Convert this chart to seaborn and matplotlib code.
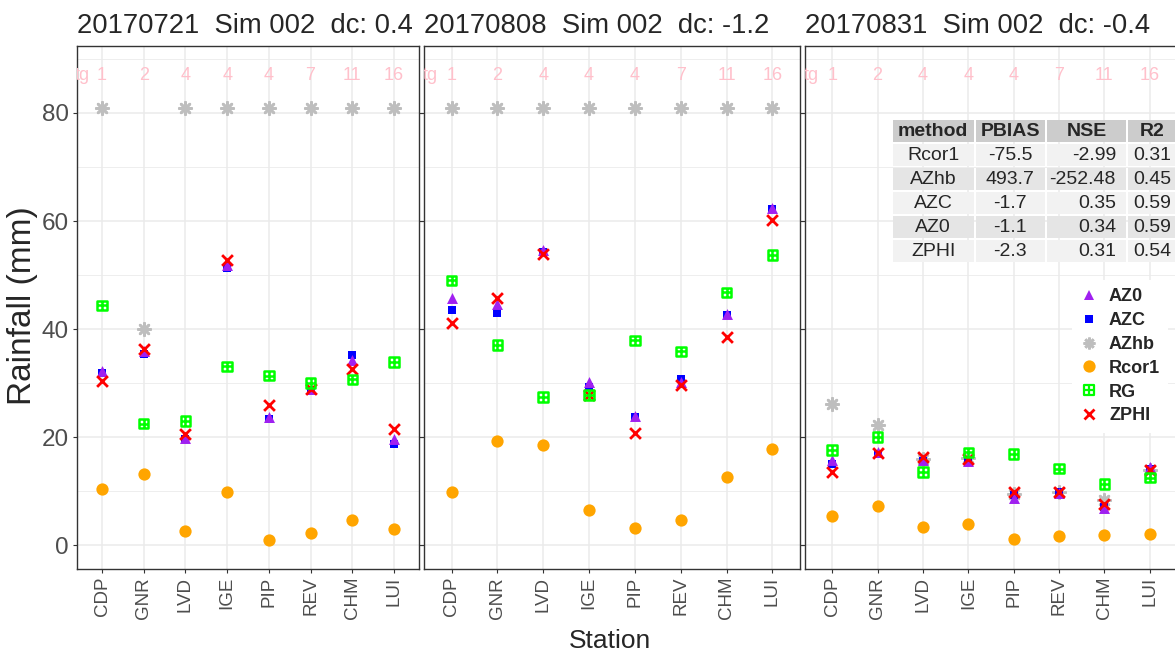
import numpy as np
import pandas as pd
import matplotlib
matplotlib.use("Agg")
import matplotlib.pyplot as plt
import matplotlib.transforms as mtransforms
from matplotlib.patches import Rectangle
from matplotlib.path import Path
from matplotlib.lines import Line2D
import seaborn as sns

# ---------------------------------------------------------------------------
# data
# ---------------------------------------------------------------------------
stations = ["CDP", "GNR", "LVD", "IGE", "PIP", "REV", "CHM", "LUI"]
tg_labels = ["1", "2", "4", "4", "4", "7", "11", "16"]
methods = ["AZhb", "AZC", "AZ0", "Rcor1", "ZPHI", "RG"]  # drawing order

titles = ["20170721  Sim 002  dc: 0.4",
          "20170808  Sim 002  dc: -1.2",
          "20170831  Sim 002  dc: -0.4"]

# 20170721
az0_0721 = [32.2, 35.9, 19.9, 51.9, 23.8, 28.9, 34.3, 19.7]
azc_0721 = [31.9, 35.4, 19.6, 51.3, 23.3, 28.7, 35.3, 18.7]
azhb_0721 = [81, 40.1, 81, 81, 81, 81, 81, 81]
rcor1_0721 = [10.4, 13.2, 2.7, 9.9, 0.9, 2.3, 4.7, 3.0]
rg_0721 = [44.4, 22.5, 23.0, 33.1, 31.4, 30.0, 30.7, 33.9]
zphi_0721 = [30.4, 36.3, 20.6, 52.8, 26.0, 28.9, 32.7, 21.5]

# 20170808
az0_0808 = [45.7, 44.6, 54.7, 30.3, 24.0, 30.3, 42.8, 62.5]
azc_0808 = [43.5, 43.0, 54.3, 29.2, 23.7, 30.7, 42.7, 62.2]
azhb_0808 = [81, 81, 81, 81, 81, 81, 81, 81]
rcor1_0808 = [9.8, 19.3, 18.5, 6.5, 3.2, 4.7, 12.7, 17.9]
rg_0808 = [49.0, 37.1, 27.4, 27.8, 37.9, 35.9, 46.8, 53.7]
zphi_0808 = [41.2, 45.7, 53.9, 27.8, 20.8, 29.6, 38.6, 60.2]

# 20170831
az0_0831 = [15.7, 17.3, 15.7, 15.6, 8.7, 9.7, 6.8, 14.4]
azc_0831 = [15.1, 16.9, 15.6, 15.7, 9.3, 9.8, 7.1, 14.2]
azhb_0831 = [26.2, 22.3, 15.9, 16.2, 9.5, 9.9, 8.4, 13.9]
rcor1_0831 = [5.4, 7.3, 3.3, 3.9, 1.1, 1.8, 1.9, 2.0]
rg_0831 = [17.6, 20.0, 13.6, 17.2, 16.9, 14.2, 11.3, 12.5]
zphi_0831 = [13.5, 17.0, 16.4, 15.9, 9.9, 9.8, 7.7, 14.0]

# statistics table (third panel)
tbl_header = ["method", "PBIAS", "NSE", "R2"]
tbl_method = ["Rcor1", "AZhb", "AZC", "AZ0", "ZPHI"]
tbl_pbias = ["-75.5", "493.7", "-1.7", "-1.1", "-2.3"]
tbl_nse = ["-2.99", "-252.48", "0.35", "0.34", "0.31"]
tbl_r2 = ["0.31", "0.45", "0.59", "0.59", "0.54"]

legend_order = ["AZ0", "AZC", "AZhb", "Rcor1", "RG", "ZPHI"]

# ---------------------------------------------------------------------------
# long table for seaborn
# ---------------------------------------------------------------------------
panel_data = [
    {"AZ0": az0_0721, "AZC": azc_0721, "AZhb": azhb_0721,
     "Rcor1": rcor1_0721, "RG": rg_0721, "ZPHI": zphi_0721},
    {"AZ0": az0_0808, "AZC": azc_0808, "AZhb": azhb_0808,
     "Rcor1": rcor1_0808, "RG": rg_0808, "ZPHI": zphi_0808},
    {"AZ0": az0_0831, "AZC": azc_0831, "AZhb": azhb_0831,
     "Rcor1": rcor1_0831, "RG": rg_0831, "ZPHI": zphi_0831},
]
rows = []
for p, d in enumerate(panel_data):
    for m, vals in d.items():
        for i, v in enumerate(vals):
            rows.append({"panel": p, "method": m, "pos": i, "station": stations[i], "rain": v})
df = pd.DataFrame(rows)

# ---------------------------------------------------------------------------
# style
# ---------------------------------------------------------------------------
sns.set_style("white")
plt.rcParams["font.family"] = ["Liberation Sans", "DejaVu Sans"]

# square with a plus inside (ggplot shape 12)
sq_plus = Path(
    [(-1, -1), (1, -1), (1, 1), (-1, 1), (-1, -1), (-1, 0), (1, 0), (0, -1), (0, 1)],
    [Path.MOVETO, Path.LINETO, Path.LINETO, Path.LINETO, Path.CLOSEPOLY,
     Path.MOVETO, Path.LINETO, Path.MOVETO, Path.LINETO])

styles = {
    "AZ0": dict(marker="^", color="#A020F0", s=62, linewidth=0),
    "AZC": dict(marker="s", color="#0000FF", s=36, linewidth=0),
    "AZhb": dict(marker=(8, 2, 0), color="#BEBEBE", s=80, linewidth=1.9),
    "Rcor1": dict(marker="o", color="#FFA500", s=78, linewidth=0),
    "ZPHI": dict(marker="x", color="#FF0000", s=60, linewidth=2.0),
    "RG": dict(marker=sq_plus, color="#00FF00", s=47, linewidth=1.8,
               facecolor="none", edgecolor="#00FF00"),
}

W, H = 1175, 653
fig = plt.figure(figsize=(W / 100, H / 100), dpi=100)
pix = mtransforms.Affine2D().scale(1 / W, -1 / H).translate(0, 1) + fig.transFigure


def box(l, r, t, b):
    return [l / W, 1 - b / H, (r - l) / W, (b - t) / H]


panel_px = [(77, 419), (424, 800), (805, 1177)]
axes = []
for p, (l, r) in enumerate(panel_px):
    ax = fig.add_axes(box(l, r, 46, 569))
    sub = df[df["panel"] == p]
    for m in methods:
        sns.scatterplot(data=sub[sub["method"] == m], x="pos", y="rain",
                        ax=ax, legend=False, zorder=3, **styles[m])

    # tg labels
    for i, lab in enumerate(tg_labels):
        ax.text(i, 87, lab, color="#FFC0CB", ha="center", va="center", fontsize=13)
    ax.text(-0.47, 87, "tg", color="#FFC0CB", ha="center", va="center",
            fontsize=13, clip_on=True)

    ax.set_xlim(-0.6, 7.6)
    ax.set_ylim(-4.4, 92.4)
    ax.set_xticks(range(len(stations)))
    ax.set_xticklabels(stations, rotation=90)
    ax.set_yticks([0, 20, 40, 60, 80])
    ax.set_yticks([10, 30, 50, 70, 90], minor=True)
    ax.grid(which="major", color="#EBEBEB", lw=1.1)
    ax.grid(which="minor", axis="y", color="#EBEBEB", lw=0.6)
    ax.set_axisbelow(True)
    ax.set_xlabel("")
    ax.set_ylabel("")
    for sp in ax.spines.values():
        sp.set_color("#333333")
        sp.set_linewidth(1.0)
    ax.tick_params(axis="x", which="major", bottom=True, direction="out", length=2.7,
                   width=0.8, color="#333333", labelsize=13.5, labelcolor="#4D4D4D", pad=3)
    ax.tick_params(axis="y", which="major", left=True, right=True, labelright=False,
                   labelleft=(p == 0), direction="out", length=2.7, width=0.8,
                   color="#333333", labelsize=17.5, labelcolor="#4D4D4D", pad=3)
    ax.tick_params(which="minor", length=0)
    ax.set_title(titles[p], loc="left", fontsize=19.7, pad=9.4)
    axes.append(ax)

fig.text(23, 306, "Rainfall (mm)", transform=pix, rotation=90,
         ha="center", va="center", fontsize=24)
fig.text(610, 648, "Station", transform=pix, ha="center", va="baseline", fontsize=19)

# ---------------------------------------------------------------------------
# statistics table
# ---------------------------------------------------------------------------
col_edges = [892, 974.5, 1046, 1127, 1182]
row_edges = [119, 142.5, 166.5, 190.5, 214.5, 238.5, 262.5]
cells = [tbl_header] + [list(r) for r in zip(tbl_method, tbl_pbias, tbl_nse, tbl_r2)]
for r in range(len(cells)):
    if r == 0:
        fc = "#CCCCCC"
    elif r % 2 == 1:
        fc = "#F2F2F2"
    else:
        fc = "#E5E5E5"
    t, b = row_edges[r], row_edges[r + 1]
    for c in range(4):
        l, rr = col_edges[c], col_edges[c + 1]
        fig.patches.append(Rectangle((l + 1, t + 1), rr - l - 2, b - t - 2,
                                     transform=pix, facecolor=fc, edgecolor="none"))
        txt = cells[r][c]
        if c == 2 and r > 0:
            x, ha = 1116, "right"
        else:
            x, ha = (l + rr) / 2, "center"
        if c == 3:
            x = 1152
        fig.text(x, (t + b) / 2 + 1, txt, transform=pix, ha=ha, va="center",
                 fontsize=14, fontweight="bold" if r == 0 else "normal")

# ---------------------------------------------------------------------------
# legend
# ---------------------------------------------------------------------------
handles = []
for m in legend_order:
    st = styles[m]
    mk = st["marker"]
    ms = np.sqrt(st["s"]) * 1.0
    if m == "RG":
        h = Line2D([], [], ls="none", marker=mk, markersize=ms * 0.95, markerfacecolor="none",
                   markeredgecolor=st["color"], markeredgewidth=1.6)
    elif m in ("AZhb", "ZPHI"):
        h = Line2D([], [], ls="none", marker=mk, markersize=ms * 0.95, color=st["color"],
                   markeredgewidth=st["linewidth"])
    else:
        h = Line2D([], [], ls="none", marker=mk, markersize=ms, color=st["color"],
                   markeredgewidth=0)
    handles.append(h)

leg = fig.legend(handles, legend_order, loc="upper left",
                 bbox_to_anchor=(1063 / W, 1 - 271 / H), frameon=True, framealpha=1,
                 facecolor="white", edgecolor="none", fancybox=False,
                 prop={"weight": "bold", "size": 13}, handlelength=1.0,
                 handletextpad=0.6, labelspacing=0.38, borderpad=0.45)

fig.savefig("out.png", dpi=100)
